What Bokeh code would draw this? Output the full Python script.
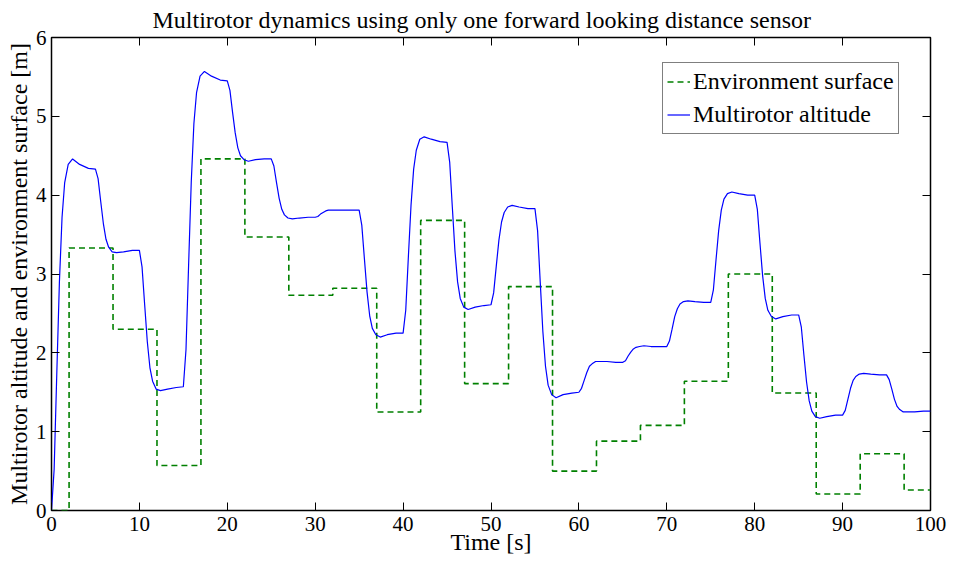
from bokeh.plotting import figure
from bokeh.models import LinearAxis, FixedTicker, Legend, LegendItem, CustomJSTickFormatter
from bokeh.embed import file_html
from bokeh.resources import INLINE

# ---- data ----
x_ticks = [0, 10, 20, 30, 40, 50, 60, 70, 80, 90, 100]
y_ticks = [0, 1, 2, 3, 4, 5, 6]

surface_t = [0, 2, 7, 12, 17, 22, 27, 32, 37, 42, 47, 52, 57, 62, 67, 72, 77, 82, 87, 92, 97, 100]
surface_h = [0.00, 3.33, 2.30, 0.57, 4.46, 3.47, 2.73, 2.82, 1.25, 3.68, 1.61,
             2.84, 0.50, 0.88, 1.08, 1.64, 3.00, 1.49, 0.21, 0.72, 0.26, 0.26]

altitude_t = [
    0.0, 0.3, 0.6, 0.9, 1.2, 1.5, 1.9, 2.4, 3.2, 4.2,
    5.0, 5.3, 5.6, 5.9, 6.2, 6.5, 6.9, 7.4, 8.2, 9.2,
    10.0, 10.3, 10.6, 10.9, 11.2, 11.5, 11.9, 12.4, 13.2, 14.2,
    15.0, 15.3, 15.6, 15.9, 16.2, 16.5, 16.9, 17.4, 18.2, 19.2,
    20.0, 20.3, 20.6, 20.9, 21.2, 21.5, 21.9, 22.4, 23.2, 24.2,
    25.0, 25.3, 25.6, 25.9, 26.2, 26.5, 26.9, 27.4, 28.2, 29.2,
    30.0, 30.3, 30.6, 30.9, 31.2, 31.5, 31.9, 32.4, 33.2, 34.2,
    35.0, 35.3, 35.6, 35.9, 36.2, 36.5, 36.9, 37.4, 38.2, 39.2,
    40.0, 40.3, 40.6, 40.9, 41.2, 41.5, 41.9, 42.4, 43.2, 44.2,
    45.0, 45.3, 45.6, 45.9, 46.2, 46.5, 46.9, 47.4, 48.2, 49.2,
    50.0, 50.3, 50.6, 50.9, 51.2, 51.5, 51.9, 52.4, 53.2, 54.2,
    55.0, 55.3, 55.6, 55.9, 56.2, 56.5, 56.9, 57.4, 58.2, 59.2,
    60.0, 60.3, 60.6, 60.9, 61.2, 61.5, 61.9, 62.4, 63.2, 64.2,
    65.0, 65.3, 65.6, 65.9, 66.2, 66.5, 66.9, 67.4, 68.2, 69.2,
    70.0, 70.3, 70.6, 70.9, 71.2, 71.5, 71.9, 72.4, 73.2, 74.2,
    75.0, 75.3, 75.6, 75.9, 76.2, 76.5, 76.9, 77.4, 78.2, 79.2,
    80.0, 80.3, 80.6, 80.9, 81.2, 81.5, 81.9, 82.4, 83.2, 84.2,
    85.0, 85.3, 85.6, 85.9, 86.2, 86.5, 86.9, 87.4, 88.2, 89.2,
    90.0, 90.3, 90.6, 90.9, 91.2, 91.5, 91.9, 92.4, 93.2, 94.2,
    95.0, 95.3, 95.6, 95.9, 96.2, 96.5, 96.9, 97.4, 98.2, 99.2,
    100.0,
]
altitude_h = [
    0.00, 0.52, 1.73, 2.90, 3.72, 4.16, 4.39, 4.46, 4.39, 4.34,
    4.33, 4.21, 3.92, 3.64, 3.44, 3.34, 3.28, 3.27, 3.28, 3.30,
    3.30, 3.09, 2.61, 2.14, 1.81, 1.64, 1.54, 1.52, 1.54, 1.56,
    1.57, 2.04, 3.12, 4.17, 4.91, 5.30, 5.51, 5.57, 5.51, 5.46,
    5.45, 5.33, 5.05, 4.79, 4.60, 4.50, 4.45, 4.43, 4.45, 4.46,
    4.46, 4.37, 4.16, 3.96, 3.82, 3.75, 3.71, 3.70, 3.71, 3.72,
    3.72, 3.73, 3.76, 3.78, 3.80, 3.81, 3.81, 3.81, 3.81, 3.81,
    3.81, 3.62, 3.19, 2.77, 2.47, 2.31, 2.23, 2.20, 2.23, 2.25,
    2.25, 2.54, 3.22, 3.87, 4.33, 4.57, 4.71, 4.74, 4.71, 4.68,
    4.67, 4.42, 3.85, 3.29, 2.90, 2.69, 2.58, 2.55, 2.58, 2.60,
    2.61, 2.76, 3.10, 3.43, 3.66, 3.78, 3.85, 3.87, 3.85, 3.83,
    3.83, 3.55, 2.90, 2.27, 1.83, 1.59, 1.47, 1.43, 1.47, 1.49,
    1.50, 1.55, 1.65, 1.75, 1.83, 1.86, 1.89, 1.89, 1.89, 1.88,
    1.88, 1.90, 1.96, 2.01, 2.05, 2.07, 2.08, 2.09, 2.08, 2.08,
    2.08, 2.15, 2.30, 2.46, 2.56, 2.62, 2.65, 2.66, 2.65, 2.64,
    2.64, 2.80, 3.18, 3.55, 3.81, 3.95, 4.02, 4.04, 4.02, 4.00,
    4.00, 3.82, 3.39, 2.98, 2.69, 2.54, 2.46, 2.43, 2.46, 2.48,
    2.48, 2.33, 1.97, 1.63, 1.39, 1.26, 1.19, 1.17, 1.19, 1.21,
    1.21, 1.27, 1.41, 1.55, 1.65, 1.70, 1.73, 1.74, 1.73, 1.72,
    1.72, 1.66, 1.54, 1.41, 1.32, 1.28, 1.25, 1.25, 1.25, 1.26,
    1.26,
]

title_text = "Multirotor dynamics using only one forward looking distance sensor"
x_label = "Time [s]"
y_label = "Multirotor altitude and environment surface [m]"
series_labels = ["Environment surface", "Multirotor altitude"]

FONT = "Liberation Serif"

p = figure(width=950, height=561, x_range=(0, 100), y_range=(0, 6),
           output_backend="svg", toolbar_location=None,
           min_border_left=51, min_border_right=20, min_border_top=36, min_border_bottom=51)

p.title.text = title_text
p.title.text_font = FONT
p.title.text_font_size = "24px"
p.title.text_font_style = "normal"
p.title.text_color = "black"
p.title.align = "left"
p.title.offset = 101
p.title.standoff = 9

p.background_fill_color = "white"
p.border_fill_color = "white"
p.outline_line_color = "black"
p.outline_line_width = 1.5
p.xgrid.grid_line_color = None
p.ygrid.grid_line_color = None

def style_axis(ax, ticks, show_labels=True):
    ax.ticker = FixedTicker(ticks=ticks)
    ax.axis_line_color = None
    ax.major_tick_in = 8
    ax.major_tick_out = 0
    ax.major_tick_line_color = "black"
    ax.major_tick_line_width = 1
    ax.minor_tick_line_color = None
    ax.major_label_text_font = FONT
    ax.major_label_text_font_size = "21px"
    ax.major_label_text_color = "black"
    ax.axis_label_text_font = FONT
    ax.axis_label_text_font_size = "24px"
    ax.axis_label_text_font_style = "normal"
    ax.axis_label_text_color = "black"
    if not show_labels:
        ax.formatter = CustomJSTickFormatter(code="return ''")
        ax.major_label_standoff = 0

style_axis(p.xaxis[0], x_ticks)
style_axis(p.yaxis[0], y_ticks)
p.xaxis.axis_label = x_label
p.yaxis.axis_label = y_label
p.xaxis.major_label_standoff = 6
p.xaxis.axis_label_standoff = -5
p.yaxis.major_label_standoff = 5
p.yaxis.axis_label_standoff = 1

top_axis = LinearAxis()
style_axis(top_axis, x_ticks, show_labels=False)
p.add_layout(top_axis, "above")
right_axis = LinearAxis()
style_axis(right_axis, y_ticks, show_labels=False)
p.add_layout(right_axis, "right")

r_env = p.step(x=surface_t, y=surface_h, mode="after", line_color="#008000",
               line_width=1.6, line_dash="6 4")
r_alt = p.line(x=altitude_t, y=altitude_h, line_color="#0000ff", line_width=1.2)

legend = Legend(items=[LegendItem(label=series_labels[0], renderers=[r_env]),
                       LegendItem(label=series_labels[1], renderers=[r_alt])],
                location=(611, 376))
legend.border_line_color = "black"
legend.border_line_width = 1.2
legend.background_fill_color = "white"
legend.background_fill_alpha = 1
legend.label_text_font = FONT
legend.label_text_font_size = "24px"
legend.label_text_color = "black"
legend.glyph_width = 23
legend.glyph_height = 29
legend.label_height = 29
legend.label_standoff = 3
legend.padding = 4
legend.spacing = 4
legend.margin = 0
p.add_layout(legend)

open("out.html", "w").write(file_html(p, INLINE))
